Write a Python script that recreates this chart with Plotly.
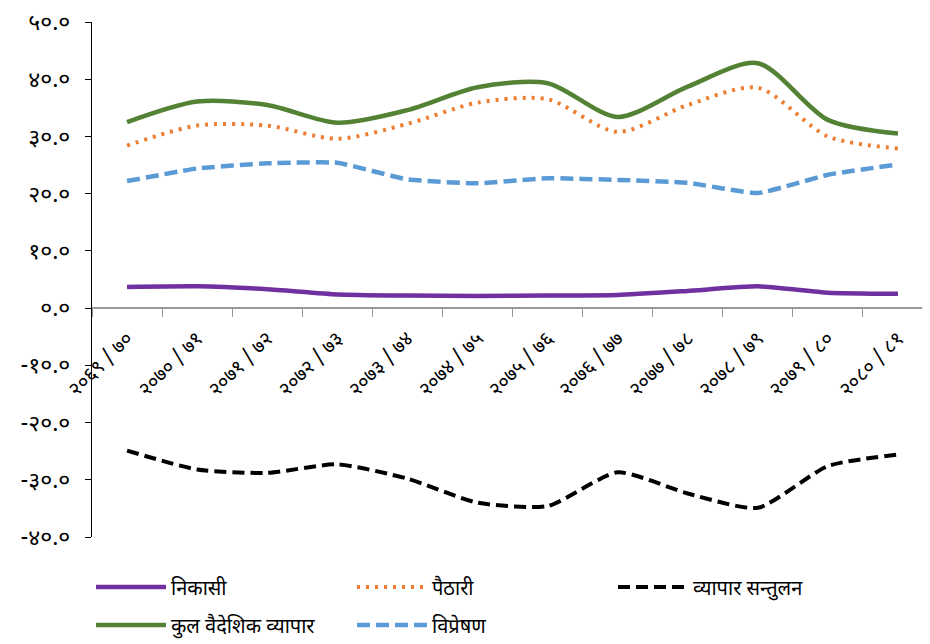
import plotly.graph_objects as go

# fiscal years (Nepali digits)
years = ["२०६९ / ७०", "२०७० / ७१", "२०७१ / ७२", "२०७२ / ७३", "२०७३ / ७४", "२०७४ / ७५",
         "२०७५ / ७६", "२०७६ / ७७", "२०७७ / ७८", "२०७८ / ७९", "२०७९ / ८०", "२०८० / ८१"]

# percent of GDP
export = [3.7, 3.8, 3.3, 2.4, 2.2, 2.1, 2.2, 2.3, 3.0, 3.8, 2.7, 2.5]
imports = [28.4, 31.9, 31.9, 29.6, 32.2, 35.9, 36.5, 30.8, 35.5, 38.5, 30.0, 27.9]
balance = [-24.9, -28.2, -28.8, -27.3, -29.8, -34.0, -34.6, -28.7, -32.4, -34.9, -27.6, -25.6]
total_trade = [32.5, 36.1, 35.5, 32.4, 34.6, 38.6, 39.3, 33.4, 38.7, 42.8, 32.9, 30.5]
remittance = [22.2, 24.4, 25.3, 25.4, 22.5, 21.8, 22.7, 22.4, 21.9, 20.1, 23.3, 25.1]

y_ticks = [-40, -30, -20, -10, 0, 10, 20, 30, 40, 50]
y_ticktext = ["-४०.०", "-३०.०", "-२०.०", "-१०.०", "०.०", "१०.०", "२०.०", "३०.०", "४०.०", "५०.०"]

font = "Noto Sans Devanagari, Lohit Devanagari, Noto Sans, sans-serif"

# name, values, colour, dash, width, smoothing, legend row
series = [
    ("निकासी", export, "#7030A0", "solid", 4.5, 0.5, "legend"),
    ("पैठारी", imports, "#ED7D31", "3px,6px", 4, 0.8, "legend"),
    ("व्यापार सन्तुलन", balance, "#000000", "12px,6px", 4, 0.6, "legend"),
    ("कुल वैदेशिक व्यापार", total_trade, "#548235", "solid", 4.5, 0.8, "legend2"),
    ("विप्रेषण", remittance, "#5B9BD5", "13px,6px", 4.5, 0.4, "legend2"),
]

fig = go.Figure()
for name, vals, color, dash, w, smooth, leg in series:
    fig.add_trace(go.Scatter(
        x=years, y=vals, name=name, mode="lines", legend=leg,
        line=dict(color=color, dash=dash, width=w, shape="spline", smoothing=smooth),
    ))

# the page body adds an 8px offset, so the figure is a bit smaller than the window
W, H = 922, 636

legend_style = dict(orientation="h", xref="container", yref="container",
                    x=83 / W, xanchor="left", yanchor="middle",
                    entrywidth=176, entrywidthmode="pixels", itemwidth=70,
                    font=dict(size=20), bgcolor="rgba(0,0,0,0)")

fig.update_layout(
    width=W, height=H,
    margin=dict(l=84, r=0, t=14, b=107, autoexpand=False),
    paper_bgcolor="white", plot_bgcolor="white",
    font=dict(family=font, size=17, color="black"),
    showlegend=True,
    legend=dict(legend_style, y=1 - 579 / H),
    legend2=dict(legend_style, y=1 - 617 / H),
    xaxis=dict(
        type="category", range=[-0.5, 11.457], automargin=False,
        anchor="free", position=40 / 90,
        showline=True, linecolor="#999999", linewidth=1.5,
        ticks="outside", tickson="boundaries", ticklen=8, tickcolor="#999999",
        tickangle=-45, tickfont=dict(size=20), ticklabelstandoff=10,
        showgrid=False, zeroline=False,
    ),
    yaxis=dict(
        range=[-40, 50], tickvals=y_ticks, ticktext=y_ticktext, automargin=False,
        showline=True, linecolor="black", linewidth=1.2,
        ticks="outside", ticklen=6, tickcolor="black", ticklabelstandoff=10,
        showgrid=False, zeroline=False, tickfont=dict(size=23),
    ),
)

fig.write_html("out.html")
